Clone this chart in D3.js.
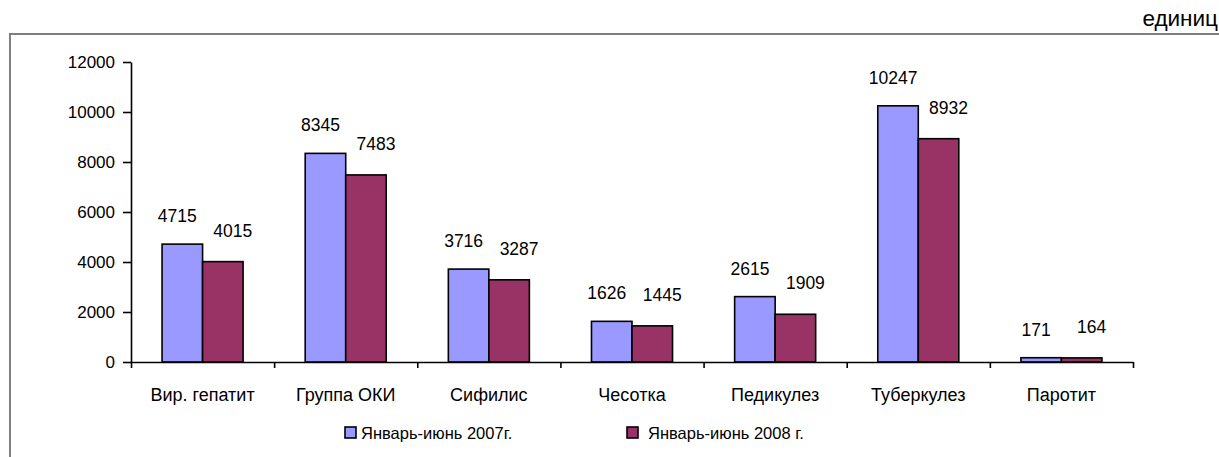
<!DOCTYPE html>
<html lang="ru">
    <head>
        <meta charset="utf-8">
        <style>
            body { margin: 0; background: #fff; }
            text { font-family: "Liberation Sans", Arial, sans-serif; fill: #000; }
            .bar { stroke: #000; stroke-width: 1.6px; }
            .axis path, .axis line { stroke: #000; stroke-width: 1.6px; }
        </style>
        <script src="https://d3js.org/d3.v7.min.js"></script>
        <title>Chart</title>
    </head>
    <body>
        <div id="chart"></div>
        <script>
            // data
            var categories = ["Вир. гепатит", "Группа ОКИ", "Сифилис", "Чесотка", "Педикулез", "Туберкулез", "Паротит"];
            var values2007 = [4715, 8345, 3716, 1626, 2615, 10247, 171];
            var values2008 = [4015, 7483, 3287, 1445, 1909, 8932, 164];
            var seriesNames = ["Январь-июнь 2007г.", "Январь-июнь 2008 г."];
            var yTicks = [0, 2000, 4000, 6000, 8000, 10000, 12000];

            var colors = ["#9999ff", "#993366"];
            // label nudges per series (dx, gap above bar)
            var labelDx = [-5, 10], labelGap = [22, 25];

            var W = 1219, H = 457;
            var margin = {top: 62, left: 131, right: 86, bottom: 95};
            var width = W - margin.left - margin.right,
                height = H - margin.top - margin.bottom;

            var svg = d3.select("#chart")
                .append("svg")
                    .attr("width", W)
                    .attr("height", H);

            // outer frame (top and left edges visible)
            svg.append("rect")
                .attr("x", 10).attr("y", 34)
                .attr("width", W + 20).attr("height", H + 20)
                .attr("fill", "none")
                .attr("stroke", "#7f7f7f")
                .attr("stroke-width", 2);

            svg.append("text")
                .attr("x", 1218).attr("y", 26)
                .attr("text-anchor", "end")
                .style("font-size", "22.5px")
                .text("единиц");

            var g = svg.append("g")
                .attr("transform", "translate(" + margin.left + "," + margin.top + ")");

            var p = 0.434;
            var x = d3.scaleBand()
                .domain(categories)
                .range([0, width])
                .paddingInner(p)
                .paddingOuter(p / 2);

            var x1 = d3.scaleBand()
                .domain([0, 1])
                .range([0, x.bandwidth()]);

            var y = d3.scaleLinear()
                .domain([0, 12000])
                .range([height, 0]);

            var rows = categories.map(function(c, i) {
                return {cat: c, vals: [values2007[i], values2008[i]]};
            });

            var groups = g.selectAll(".grp")
                .data(rows)
                .enter().append("g")
                    .attr("transform", function(d) { return "translate(" + x(d.cat) + ",0)"; });

            groups.selectAll("rect")
                .data(function(d) { return d.vals.map(function(v, k) { return {k: k, v: v}; }); })
                .enter().append("rect")
                    .attr("class", "bar")
                    .attr("x", function(d) { return x1(d.k); })
                    .attr("width", x1.bandwidth())
                    .attr("y", function(d) { return y(d.v); })
                    .attr("height", function(d) { return height - y(d.v); })
                    .attr("fill", function(d) { return colors[d.k]; });

            groups.selectAll(".lbl")
                .data(function(d) { return d.vals.map(function(v, k) { return {k: k, v: v}; }); })
                .enter().append("text")
                    .attr("x", function(d) { return x1(d.k) + x1.bandwidth() / 2 + labelDx[d.k]; })
                    .attr("y", function(d) { return y(d.v) - labelGap[d.k]; })
                    .attr("text-anchor", "middle")
                    .style("font-size", "17.5px")
                    .text(function(d) { return d.v; });

            // axes
            var yAxis = g.append("g")
                .attr("class", "axis")
                .call(d3.axisLeft(y).tickValues(yTicks).tickSize(8).tickSizeOuter(0).tickFormat(d3.format("d")));
            yAxis.selectAll("text")
                .style("font-size", "17px")
                .attr("x", -16);

            var xAxisScale = d3.scaleLinear().domain([0, categories.length]).range([0, width]);
            g.append("g")
                .attr("class", "axis")
                .attr("transform", "translate(0," + height + ")")
                .call(d3.axisBottom(xAxisScale).tickValues(d3.range(categories.length + 1)).tickSize(6).tickSizeOuter(0).tickFormat(""));

            g.selectAll(".cat")
                .data(categories)
                .enter().append("text")
                    .attr("x", function(d) { return x(d) + x.bandwidth() / 2; })
                    .attr("y", height + 39)
                    .attr("text-anchor", "middle")
                    .style("font-size", "18px")
                    .text(function(d) { return d; });

            // legend
            var legendX = [345, 627];
            var legendTextX = [361, 648];
            var legend = svg.selectAll(".leg")
                .data(seriesNames)
                .enter().append("g");
            legend.append("rect")
                .attr("x", function(d, i) { return legendX[i]; })
                .attr("y", 427)
                .attr("width", 11).attr("height", 11)
                .attr("fill", function(d, i) { return colors[i]; })
                .attr("stroke", "#000")
                .attr("stroke-width", 1.6);
            legend.append("text")
                .attr("x", function(d, i) { return legendTextX[i]; })
                .attr("y", 439)
                .style("font-size", "16.5px")
                .text(function(d) { return d; });
        </script>
    </body>
</html>
